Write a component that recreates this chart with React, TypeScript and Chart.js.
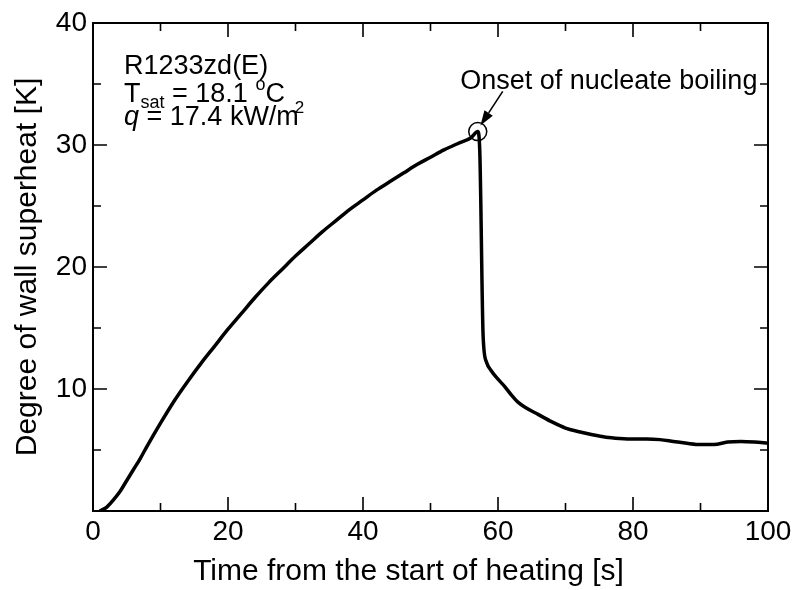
import React, { useEffect, useRef } from "react";
import { Chart, registerables } from "chart.js";

Chart.register(...registerables);

const FAMILY = "'Liberation Sans', Arial, Helvetica, sans-serif";

// Time from the start of heating [s]
const timeS = [
  1, 2, 3, 4, 5, 6, 7, 8, 10, 12, 14, 16, 18, 20, 22, 24, 26, 28, 30, 32, 34,
  36, 38, 40, 42, 44, 46, 48, 50, 52, 54, 56, 57.0, 57.3, 57.8, 58.3, 59, 60,
  61, 62, 63, 64, 66, 68, 70, 72, 74, 76, 78, 80, 82, 84, 86, 88, 90, 92, 94,
  96, 98, 100,
];
// Degree of wall superheat [K]
const superheatK = [
  0, 0.3, 0.9, 1.6, 2.5, 3.4, 4.3, 5.3, 7.2, 9.0, 10.6, 12.1, 13.5, 14.9, 16.2,
  17.5, 18.7, 19.8, 20.9, 21.9, 22.9, 23.8, 24.7, 25.5, 26.3, 27.0, 27.7, 28.4,
  29.0, 29.6, 30.1, 30.6, 31.1, 29.5, 14.3, 12.2, 11.5, 10.8, 10.2, 9.5, 8.9,
  8.5, 7.9, 7.3, 6.8, 6.5, 6.25, 6.05, 5.95, 5.9, 5.9, 5.85, 5.7, 5.55, 5.45,
  5.45, 5.65, 5.7, 5.65, 5.55,
];

// Onset of nucleate boiling marker
const onsetPoint = { x: 57.0, y: 31.1 };
const arrowFrom = { x: 60.7, y: 34.4 };
const arrowTo = { x: 57.4, y: 31.6 };

const xTicks = [0, 20, 40, 60, 80, 100];
const yTicks = [10, 20, 30, 40];

const xTitle = "Time from the start of heating [s]";
const yTitle = "Degree of wall superheat [K]";

type Part = { text: string; size: number; italic?: boolean; dy?: number; dx?: number };

const annotationLines: { x: number; y: number; parts: Part[] }[] = [
  { x: 4.6, y: 35.8, parts: [{ text: "R1233zd(E)", size: 27 }] },
  {
    x: 4.6,
    y: 33.5,
    parts: [
      { text: "T", size: 27 },
      { text: "sat", size: 18, dy: 6 },
      { text: " = 18.1 ", size: 27 },
      { text: "o", size: 18, dy: -12 },
      { text: "C", size: 27 },
    ],
  },
  {
    x: 4.6,
    y: 31.6,
    parts: [
      { text: "q", size: 27, italic: true },
      { text: " = 17.4 kW/m", size: 27 },
      { text: "2", size: 17, dy: -12, dx: -4 },
    ],
  },
  { x: 54.4, y: 34.6, parts: [{ text: "Onset of nucleate boiling", size: 27 }] },
];

const framePlugin = {
  id: "frameTicks",
  afterDatasetsDraw(chart: any) {
    const { ctx, chartArea, scales } = chart;
    const xs = scales.x;
    const ys = scales.y;
    const { left, right, top, bottom } = chartArea;
    ctx.save();
    ctx.strokeStyle = "#000";
    ctx.lineWidth = 2;
    ctx.strokeRect(left, top, right - left, bottom - top);
    ctx.lineWidth = 1.6;
    ctx.beginPath();
    for (let v = 0; v <= 100; v += 10) {
      const px = xs.getPixelForValue(v);
      const len = v % 20 === 0 ? 14 : 8;
      ctx.moveTo(px, bottom);
      ctx.lineTo(px, bottom - len);
      ctx.moveTo(px, top);
      ctx.lineTo(px, top + len);
    }
    for (let v = 0; v <= 40; v += 5) {
      const py = ys.getPixelForValue(v);
      const len = v % 10 === 0 ? 14 : 8;
      ctx.moveTo(left, py);
      ctx.lineTo(left + len, py);
      ctx.moveTo(right, py);
      ctx.lineTo(right - len, py);
    }
    ctx.stroke();

    // arrow
    const x1 = xs.getPixelForValue(arrowFrom.x);
    const y1 = ys.getPixelForValue(arrowFrom.y);
    const x2 = xs.getPixelForValue(arrowTo.x);
    const y2 = ys.getPixelForValue(arrowTo.y);
    const ang = Math.atan2(y2 - y1, x2 - x1);
    const headLen = 15;
    const headW = 5;
    const bx = x2 - headLen * Math.cos(ang);
    const by = y2 - headLen * Math.sin(ang);
    ctx.lineWidth = 1.6;
    ctx.beginPath();
    ctx.moveTo(x1, y1);
    ctx.lineTo(bx, by);
    ctx.stroke();
    ctx.fillStyle = "#000";
    ctx.beginPath();
    ctx.moveTo(x2, y2);
    ctx.lineTo(bx + headW * Math.sin(ang), by - headW * Math.cos(ang));
    ctx.lineTo(bx - headW * Math.sin(ang), by + headW * Math.cos(ang));
    ctx.closePath();
    ctx.fill();

    // annotation texts
    ctx.textAlign = "left";
    ctx.textBaseline = "alphabetic";
    for (const line of annotationLines) {
      let cx = xs.getPixelForValue(line.x);
      const cy = ys.getPixelForValue(line.y);
      for (const p of line.parts) {
        ctx.font = `${p.italic ? "italic " : ""}${p.size}px ${FAMILY}`;
        const dx = p.dx || 0;
        ctx.fillText(p.text, cx + dx, cy + (p.dy || 0));
        cx += dx + ctx.measureText(p.text).width;
      }
    }

    // x axis title (slightly left of the plot centre, as in the original)
    ctx.font = `30px ${FAMILY}`;
    ctx.textAlign = "center";
    ctx.textBaseline = "alphabetic";
    ctx.fillText(xTitle, (left + right) / 2 - 22, chart.height - 10);
    ctx.restore();
  },
};

export default function App() {
  const ref = useRef<HTMLCanvasElement | null>(null);
  useEffect(() => {
    if (!ref.current) return;
    const chart = new Chart(ref.current, {
      type: "line",
      data: {
        datasets: [
          {
            data: timeS.map((t, i) => ({ x: t, y: superheatK[i] })),
            borderColor: "#000",
            borderWidth: 3.5,
            pointRadius: 0,
            cubicInterpolationMode: "monotone",
            fill: false,
          },
          {
            data: [onsetPoint],
            showLine: false,
            pointRadius: 9,
            pointBorderWidth: 1.5,
            pointBorderColor: "#000",
            pointBackgroundColor: "rgba(0,0,0,0)",
          },
        ],
      },
      options: {
        animation: false,
        responsive: false,
        devicePixelRatio: 1,
        plugins: { legend: { display: false }, tooltip: { enabled: false } },
        layout: { padding: { top: 23, right: 30, left: 0, bottom: 0 }, autoPadding: false },
        scales: {
          x: {
            type: "linear",
            min: 0,
            max: 100,
            afterBuildTicks: (s: any) => {
              s.ticks = xTicks.map((v) => ({ value: v }));
            },
            ticks: {
              color: "#000",
              font: { size: 28, family: FAMILY },
              padding: 4,
              maxRotation: 0,
              autoSkip: false,
            },
            grid: { display: false, drawTicks: false },
            border: { display: false },
            title: { display: false },
            afterFit: (s: any) => {
              s.height = 79;
            },
          },
          y: {
            type: "linear",
            min: 0,
            max: 40,
            afterBuildTicks: (s: any) => {
              s.ticks = yTicks.map((v) => ({ value: v }));
            },
            ticks: {
              color: "#000",
              font: { size: 28, family: FAMILY },
              padding: 6,
            },
            grid: { display: false, drawTicks: false },
            border: { display: false },
            title: {
              display: true,
              text: yTitle,
              color: "#000",
              font: { size: 30, family: FAMILY },
              padding: { top: 10, bottom: 0 },
            },
            afterFit: (s: any) => {
              s.width = 93;
            },
          },
        },
      } as any,
      plugins: [framePlugin],
    });
    return () => chart.destroy();
  }, []);
  return (
    <div style={{ position: "fixed", left: 0, top: 0, width: 798, height: 590, background: "#fff" }}>
      <canvas ref={ref} width={798} height={590} />
    </div>
  );
}
